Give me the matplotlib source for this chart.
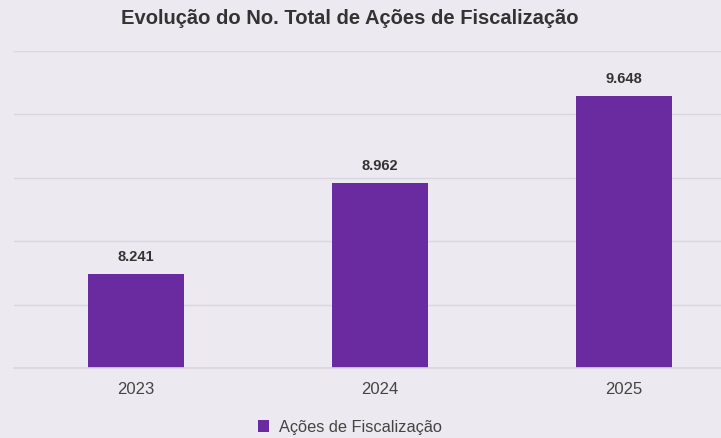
import matplotlib.pyplot as plt
from matplotlib.ticker import MultipleLocator

# dados
anos = ['2023', '2024', '2025']
acoes = [8241, 8962, 9648]
rotulos = ['8.241', '8.962', '9.648']

fundo = '#ECE9F0'
roxo = '#6B2BA0'
grade = '#D9D6DD'

plt.rcParams['font.family'] = ['Liberation Sans', 'DejaVu Sans']

fig = plt.figure(figsize=(7.21, 4.39), dpi=100)
fig.patch.set_facecolor(fundo)
ax = fig.add_axes([14/721, 1 - 369/439, 732/721, (369 - 52)/439])
ax.set_facecolor(fundo)

x = range(len(anos))
barras = ax.bar(x, acoes, width=0.39, color=roxo, label='Ações de Fiscalização', zorder=3)

for b, txt in zip(barras, rotulos):
    ax.text(b.get_x() + b.get_width()/2, b.get_height() + 85, txt,
            ha='center', va='bottom', fontsize=10.5, fontweight='bold', color='#333333')

ax.set_xlim(-0.5, 2.5)
ax.set_ylim(7500, 10000)
ax.yaxis.set_major_locator(MultipleLocator(500))
ax.grid(axis='y', color=grade, lw=1, zorder=0)
ax.axhline(7500, color=grade, lw=1.2, zorder=4, clip_on=False)
ax.set_yticklabels([])
ax.tick_params(axis='y', length=0)
ax.tick_params(axis='x', length=0, pad=9, labelsize=12, labelcolor='#444444')
ax.set_xticks(list(x))
ax.set_xticklabels(anos)
for s in ax.spines.values():
    s.set_visible(False)

fig.text(350/721, 1 - 19/439, 'Evolução do No. Total de Ações de Fiscalização',
         ha='center', va='center', fontsize=14.5, fontweight='bold', color='#333333')

fig.legend(loc='center', bbox_to_anchor=(350/721, 1 - 428/439), frameon=False,
           fontsize=11.8, handlelength=0.7, handleheight=0.7, handletextpad=0.6,
           labelcolor='#444444')

fig.savefig('out.png', dpi=100, facecolor=fundo)
